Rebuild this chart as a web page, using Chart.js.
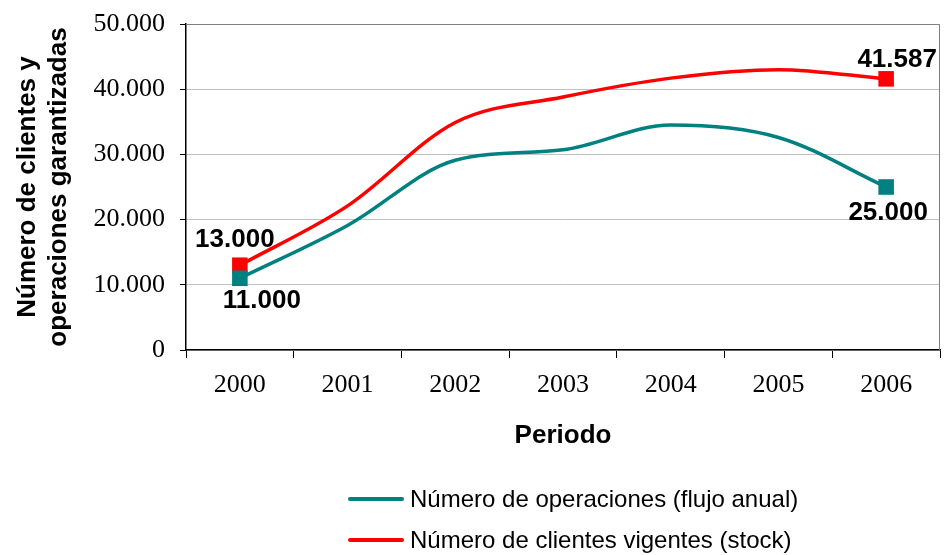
<!DOCTYPE html>
<html>
<head>
<meta charset="utf-8">
<script src="https://cdn.jsdelivr.net/npm/chart.js@4.4.1/dist/chart.umd.min.js"></script>
<style>
  html, body { margin: 0; padding: 0; background: #fff; }
  #wrap { position: relative; width: 951px; height: 555px; }
  .leg { position: absolute; left: 348px; font: 24px "Liberation Sans", Arial, sans-serif; color: #000; display: flex; align-items: center; }
  .leg span.ln { display: inline-block; width: 56px; height: 4px; border-radius: 2px; margin-right: 6px; }
</style>
</head>
<body>
<div id="wrap">
  <canvas id="chart" width="951" height="555"></canvas>
  <div class="leg" style="top:485px"><span class="ln" style="background:#008080"></span>Número de operaciones (flujo anual)</div>
  <div class="leg" style="top:526px"><span class="ln" style="background:#ff0000"></span>Número de clientes vigentes (stock)</div>
</div>
<script>
// periods and values
const years = ['2000', '2001', '2002', '2003', '2004', '2005', '2006'];
const operaciones = [11000, 19100, 29100, 30700, 34500, 32600, 25000];
const clientes = [13000, 22100, 34900, 38800, 41700, 43000, 41587];
const yTicks = [0, 10000, 20000, 30000, 40000, 50000];

function fmt(v) {
  return String(v).replace(/\B(?=(\d{3})+(?!\d))/g, '.');
}

// end labels, offset from the marker
const labelOffsets = {
  0: { first: [22, 23], last: [2, 26] },
  1: { first: [-5, -25], last: [11, -19] }
};

const endLabels = {
  id: 'endLabels',
  afterDatasetsDraw(chart) {
    const ctx = chart.ctx;
    ctx.save();
    ctx.font = 'bold 26px "Liberation Sans", Arial, sans-serif';
    ctx.fillStyle = '#000';
    ctx.textAlign = 'center';
    ctx.textBaseline = 'middle';
    chart.data.datasets.forEach((ds, i) => {
      const meta = chart.getDatasetMeta(i);
      const n = ds.data.length;
      const a = meta.data[0], b = meta.data[n - 1];
      const o = labelOffsets[i];
      ctx.fillText(fmt(ds.data[0]), a.x + o.first[0], a.y + o.first[1]);
      ctx.fillText(fmt(ds.data[n - 1]), b.x + o.last[0], b.y + o.last[1]);
    });
    ctx.restore();
  }
};

const frame = {
  id: 'frame',
  beforeDatasetsDraw(chart) {
    const { ctx, chartArea: c } = chart;
    ctx.save();
    ctx.strokeStyle = '#808080';
    ctx.lineWidth = 1;
    ctx.beginPath();
    ctx.moveTo(c.left, c.top + 0.5);
    ctx.lineTo(c.right - 0.5, c.top + 0.5);
    ctx.lineTo(c.right - 0.5, c.bottom);
    ctx.stroke();
    ctx.restore();
  }
};

const endPoint = (ctx) => (ctx.dataIndex === 0 || ctx.dataIndex === years.length - 1) ? 11 : 0;

const chart = new Chart(document.getElementById('chart'), {
  type: 'line',
  data: {
    labels: years,
    datasets: [
      {
        label: 'Número de operaciones (flujo anual)',
        data: operaciones,
        borderColor: '#008080',
        backgroundColor: '#008080',
        borderWidth: 3.5,
        cubicInterpolationMode: 'monotone',
        pointStyle: 'rect',
        pointRadius: endPoint,
        pointBorderWidth: 0,
        pointHoverRadius: endPoint
      },
      {
        label: 'Número de clientes vigentes (stock)',
        data: clientes,
        borderColor: '#ff0000',
        backgroundColor: '#ff0000',
        borderWidth: 3.5,
        cubicInterpolationMode: 'monotone',
        pointStyle: 'rect',
        pointRadius: endPoint,
        pointBorderWidth: 0,
        pointHoverRadius: endPoint
      }
    ]
  },
  options: {
    responsive: false,
    animation: false,
    layout: { padding: { top: 24, right: 2, left: 0, bottom: 95 } },
    plugins: {
      legend: { display: false },
      tooltip: { enabled: false }
    },
    scales: {
      x: {
        offset: true,
        afterFit(scale) {
          scale.height = 110;
          scale.paddingLeft = 0;
          scale.paddingRight = 0;
        },
        grid: { offset: true, drawOnChartArea: false, drawTicks: true, tickLength: 8, tickColor: '#000' },
        border: { color: '#000', width: 1.5 },
        ticks: { color: '#000', padding: 12, font: { family: '"Liberation Serif", "Times New Roman", serif', size: 26 } },
        title: {
          display: true,
          text: 'Periodo',
          color: '#000',
          padding: { top: 0, bottom: 9 },
          font: { family: '"Liberation Sans", Arial, sans-serif', size: 26, weight: 'bold' }
        }
      },
      y: {
        min: 0,
        max: 50000,
        afterFit(scale) {
          scale.width = 186;
          scale.paddingTop = 0;
          scale.paddingBottom = 0;
        },
        afterBuildTicks(scale) { scale.ticks = yTicks.map(v => ({ value: v })); },
        grid: { color: '#c0c0c0', lineWidth: 1, tickLength: 6, tickColor: '#000' },
        border: { color: '#000', width: 1.5 },
        ticks: {
          color: '#000',
          padding: 15,
          font: { family: '"Liberation Serif", "Times New Roman", serif', size: 26 },
          callback: (v) => fmt(v)
        },
        title: {
          display: true,
          text: ['Número de clientes y', 'operaciones garantizadas'],
          color: '#000',
          padding: { top: 12, bottom: 0 },
          font: { family: '"Liberation Sans", Arial, sans-serif', size: 26, weight: 'bold', lineHeight: 1.2 }
        }
      }
    }
  },
  plugins: [frame, endLabels]
});

// nudge the plot area onto the reference frame (186..949, 24..350)
const pad = chart.options.layout.padding;
const ca = chart.chartArea;
pad.right += ca.right - 949;
pad.top += 24 - ca.top;
pad.bottom += ca.bottom - 350;
chart.update();
</script>
</body>
</html>
